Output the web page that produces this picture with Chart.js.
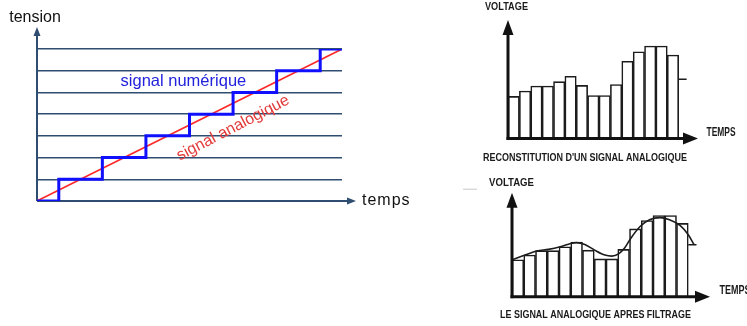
<!DOCTYPE html>
<html><head><meta charset="utf-8">
<script src="https://cdn.jsdelivr.net/npm/chart.js@4.4.1/dist/chart.umd.min.js"></script>
<style>
html,body{margin:0;padding:0;background:#fff;width:747px;height:326px;overflow:hidden;}
.box{position:absolute;}
</style></head><body>
<div class="box" style="left:0;top:0;width:430px;height:222px"><canvas id="cA"></canvas></div>
<div class="box" style="left:470px;top:0;width:277px;height:170px"><canvas id="cB"></canvas></div>
<div class="box" style="left:455px;top:168px;width:292px;height:158px"><canvas id="cC"></canvas></div>
<script>
// ---------- data ----------
// left diagram: analog ramp and its quantized (digital) version
const quantLevels   = [0, 1, 2, 3, 4, 5, 6, 7];
const stepTimes     = [0, 0.5, 1.5, 2.5, 3.5, 4.5, 5.5, 6.5, 7];
const stepValues    = [0, 1, 2, 3, 4, 5, 6, 7, 7];
const analogTimes   = [0, 7];
const analogValues  = [0, 7];

// right diagrams: sample-and-hold reconstruction
const sampleTimes   = [0.5, 1.5, 2.5, 3.5, 4.5, 5.5, 6.5, 7.5, 8.5, 9.5, 10.5, 11.5, 12.5, 13.5, 14.5];
const sampleLevels  = [3.55, 4.0, 4.43, 4.43, 4.8, 5.25, 4.48, 3.63, 3.63, 4.55, 6.52, 7.32, 7.8, 7.8, 7.05];
const tailTimes     = [15, 15.7];
const tailLevels    = [5.0, 5.0];
const filteredTimes = [0, 1.1, 2.1, 3.1, 4.1, 5.0, 5.5, 6.2, 7.0, 7.9, 8.5, 9.1, 9.6, 10.1, 10.9, 11.7, 12.6, 13.4, 14.3, 15.0, 15.5];
const filteredVals  = [3.55, 4.0, 4.4, 4.55, 4.8, 5.12, 5.2, 5.02, 4.5, 4.0, 3.9, 4.15, 4.7, 5.6, 6.75, 7.4, 7.6, 7.4, 6.85, 5.95, 5.0];

// text
const labelsA = {yName: 'tension', xName: 'temps', digital: 'signal numérique', analog: 'signal analogique'};
const labelsB = {yName: 'VOLTAGE', xName: 'TEMPS', caption: "RECONSTITUTION D'UN SIGNAL ANALOGIQUE"};
const labelsC = {yName: 'VOLTAGE', xName: 'TEMPS', caption: 'LE SIGNAL ANALOGIQUE APRES FILTRAGE'};

const pts = (xs, ys) => xs.map((x, i) => ({x: x, y: ys[i]}));

// ---------- left chart ----------
const AX = '#2f4d70';
const axesA = {
  id: 'axesA',
  beforeDatasetsDraw(chart) {
    const {ctx, chartArea: a} = chart;
    ctx.save();
    ctx.strokeStyle = AX; ctx.fillStyle = AX; ctx.lineWidth = 2;
    ctx.beginPath(); ctx.moveTo(a.left, a.bottom); ctx.lineTo(a.left, a.top - 15); ctx.stroke();
    ctx.beginPath(); ctx.moveTo(a.left, a.top - 22); ctx.lineTo(a.left - 3.5, a.top - 13); ctx.lineTo(a.left + 3.5, a.top - 13); ctx.closePath(); ctx.fill();
    ctx.beginPath(); ctx.moveTo(a.left, a.bottom); ctx.lineTo(a.right + 6, a.bottom); ctx.stroke();
    ctx.beginPath(); ctx.moveTo(a.right + 14, a.bottom); ctx.lineTo(a.right + 5, a.bottom - 3.5); ctx.lineTo(a.right + 5, a.bottom + 3.5); ctx.closePath(); ctx.fill();
    ctx.restore();
  },
  afterDatasetsDraw(chart) {
    const {ctx, chartArea: a, scales} = chart;
    ctx.save();
    ctx.font = '16px "Liberation Sans", Arial, sans-serif';
    ctx.fillStyle = '#111';
    ctx.textBaseline = 'middle';
    ctx.textAlign = 'center';
    ctx.fillText(labelsA.yName, a.left - 2, a.top - 31);
    ctx.textAlign = 'left';
    ctx.letterSpacing = '1px';
    ctx.fillText(labelsA.xName, a.right + 20, a.bottom);
    ctx.letterSpacing = '0px';
    ctx.textAlign = 'center';
    ctx.fillStyle = '#2222dd';
    ctx.font = '16.5px "Liberation Sans", Arial, sans-serif';
    ctx.fillText(labelsA.digital, scales.x.getPixelForValue(3.36), scales.y.getPixelForValue(5.5));
    ctx.fillStyle = '#e23a3a';
    ctx.font = '16px "Liberation Sans", Arial, sans-serif';
    ctx.translate(scales.x.getPixelForValue(4.5), scales.y.getPixelForValue(3.36));
    ctx.rotate(-27.5 * Math.PI / 180);
    ctx.fillText(labelsA.analog, 0, 0);
    ctx.restore();
  }
};

new Chart(document.getElementById('cA'), {
  type: 'line',
  data: {
    datasets: [
      {data: pts(analogTimes, analogValues), borderColor: '#ff2a2a', borderWidth: 1.6, pointRadius: 0, order: 2},
      {data: pts(stepTimes, stepValues), borderColor: '#1010ff', borderWidth: 3, pointRadius: 0, stepped: true, order: 1}
    ]
  },
  options: {
    responsive: true, maintainAspectRatio: false, animation: false,
    layout: {padding: {left: 37, top: 49, right: 88, bottom: 21}},
    plugins: {legend: {display: false}, tooltip: {enabled: false}},
    scales: {
      x: {type: 'linear', min: 0, max: 7, display: false},
      y: {type: 'linear', min: quantLevels[0], max: quantLevels[quantLevels.length - 1],
          ticks: {display: false, stepSize: 1}, border: {display: false},
          grid: {color: AX, lineWidth: 1.5, drawTicks: false}}
    }
  },
  plugins: [axesA]
});

// ---------- right charts ----------
const RFONT = '"Liberation Sans", Arial, sans-serif';
const axesRight = {
  id: 'axesRight',
  afterDatasetsDraw(chart, args, o) {
    const {ctx, chartArea: a} = chart;
    ctx.save();
    ctx.strokeStyle = '#111'; ctx.fillStyle = '#111'; ctx.lineWidth = 3;
    ctx.beginPath(); ctx.moveTo(a.left, a.bottom + 1.5); ctx.lineTo(a.left, a.top + 12); ctx.stroke();
    ctx.beginPath(); ctx.moveTo(a.left, a.top); ctx.lineTo(a.left - 5.5, a.top + 15); ctx.lineTo(a.left + 5.5, a.top + 15); ctx.closePath(); ctx.fill();
    ctx.beginPath(); ctx.moveTo(a.left - 1.5, a.bottom); ctx.lineTo(a.right - 12, a.bottom); ctx.stroke();
    ctx.beginPath(); ctx.moveTo(a.right, a.bottom); ctx.lineTo(a.right - 15, a.bottom - 6); ctx.lineTo(a.right - 15, a.bottom + 6); ctx.closePath(); ctx.fill();
    ctx.font = 'bold 11px ' + RFONT;
    ctx.fillStyle = '#1a1a1a';
    ctx.textBaseline = 'middle';
    ctx.textAlign = 'left';
    ctx.fillText(o.labels.yName, a.left + o.yNameDx, a.top + o.yNameDy, o.yNameW);
    ctx.font = 'bold 12px ' + RFONT;
    ctx.fillText(o.labels.xName, a.right + o.xNameDx, a.bottom + o.xNameDy, o.xNameW);
    ctx.font = 'bold ' + o.capSize + 'px ' + RFONT;
    ctx.fillText(o.labels.caption, a.left + o.capDx, a.bottom + o.capDy, o.capW);
    if (o.mark) {
      ctx.strokeStyle = '#c8c8c8'; ctx.lineWidth = 1;
      ctx.beginPath(); ctx.moveTo(a.left - 49, a.top - 3.5); ctx.lineTo(a.left - 35, a.top - 3.5); ctx.stroke();
    }
    ctx.restore();
  }
};

function rightChart(id, pad, xMax, extra, plugOpts) {
  const ds = [
    {type: 'bar', data: pts(sampleTimes, sampleLevels), backgroundColor: '#fff', borderColor: '#1c1c1c',
     borderWidth: 1.6, barPercentage: 1, categoryPercentage: 1, order: 3},
    {type: 'line', data: pts(tailTimes, tailLevels), borderColor: '#1c1c1c', borderWidth: 1.6, pointRadius: 0, order: 2}
  ].concat(extra);
  new Chart(document.getElementById(id), {
    data: {datasets: ds},
    options: {
      responsive: true, maintainAspectRatio: false, animation: false,
      layout: {padding: pad},
      plugins: {legend: {display: false}, tooltip: {enabled: false}, axesRight: plugOpts},
      scales: {
        x: {type: 'linear', min: 0, max: xMax, display: false, offset: false, grid: {offset: false}},
        y: {type: 'linear', min: 0, max: 10, display: false}
      }
    },
    plugins: [axesRight]
  });
}

rightChart('cB', {left: 38, top: 20, right: 49, bottom: 31.5}, 16.7, [],
  {labels: labelsB, yNameDx: -23, yNameDy: -13, yNameW: 43, xNameDx: 8.5, xNameDy: -5.5, xNameW: 29,
   capDx: -25, capDy: 19, capW: 204, capSize: 11, mark: false});

rightChart('cC', {left: 57, top: 24.7, right: 37, bottom: 29.3}, 16.85,
  [{type: 'line', data: pts(filteredTimes, filteredVals), borderColor: '#1c1c1c', borderWidth: 1.6,
    pointRadius: 0, cubicInterpolationMode: 'monotone', order: 1}],
  {labels: labelsC, yNameDx: -23, yNameDy: -10, yNameW: 45, xNameDx: 9.5, xNameDy: -6, xNameW: 31,
   capDx: -12, capDy: 18.5, capW: 191, capSize: 11, mark: true});
</script>
</body></html>
